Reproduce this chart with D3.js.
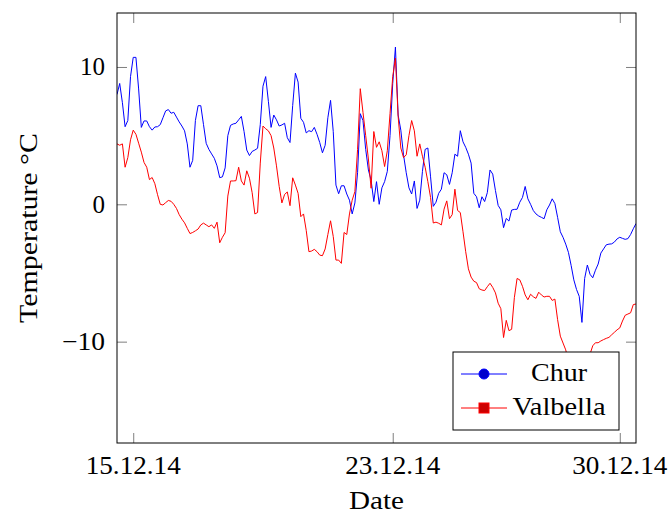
<!DOCTYPE html>
<html>
<head>
<meta charset="utf-8">
<script src="https://cdn.jsdelivr.net/npm/d3@7"></script>
<style>
  html, body { margin: 0; padding: 0; background: #fff; }
  svg { display: block; }
  text { font-family: "Liberation Serif", "DejaVu Serif", serif; fill: #000; }
</style>
</head>
<body>
<svg id="chart" width="671" height="517"></svg>
<script>
// Two-hourly air temperature (°C), starting 14.12.2014 12:00
const startTime = new Date(2014, 11, 14, 12, 0);
const stepHours = 2;

const chur = [
  8.0, 8.8, 7.4, 5.65, 6.1, 9.3, 10.7, 10.7, 8.4, 5.6,
  6.07, 6.07, 5.65, 5.4, 5.63, 5.65, 5.8, 6.3, 6.8, 6.9,
  6.63, 6.7, 6.35, 6.0, 5.7, 5.35, 4.4, 2.7, 3.2, 6.1,
  7.18, 7.18, 5.8, 4.44, 4.0, 3.67, 3.35, 2.8, 1.94, 2.0,
  2.65, 5.0, 5.75, 5.85, 5.9, 6.15, 6.4, 5.3, 3.95, 3.55,
  3.85, 3.95, 4.08, 5.8, 8.6, 9.3, 7.5, 5.6, 6.5, 6.15,
  5.7, 5.78, 5.9, 4.85, 4.5, 7.2, 9.55, 8.9, 6.26, 5.97,
  5.2, 5.36, 5.29, 5.6, 5.1, 4.5, 3.75, 4.3, 6.3, 7.57,
  5.29, 1.4, 0.77, 1.35, 1.35, 0.75, 0.3, -0.7, 0.1, 2.3,
  6.6, 6.1, 4.0, 2.5, 1.75, 0.2, 1.65, 0.0, 1.2, 1.65,
  2.4, 5.0, 8.8, 11.45, 6.5, 5.4, 3.6, 2.3, 1.2, 0.75,
  1.7, -0.3, 0.3, 2.4, 4.0, 4.1, 2.0, -0.15, 0.15, 0.8,
  1.1, 2.3, 2.15, 1.45, 2.3, 3.65, 3.5, 5.36, 4.55, 4.15,
  3.65, 3.0, 0.8, 0.55, -0.25, 0.55, 0.2, 0.85, 2.5, 2.2,
  1.0, -0.08, -0.4, -1.7, -1.03, -1.22, -0.42, -0.37, -0.36, 0.15,
  0.5, 1.3, 0.4, 0.0, -0.45, -0.7, -0.85, -0.95, -1.05, -0.4,
  -0.05, 0.4, 0.05, -0.95, -2.0, -2.4, -2.9, -3.5, -4.45, -5.5,
  -6.2, -6.7, -8.6, -5.4, -4.42, -5.1, -5.35, -4.8, -4.35, -3.55,
  -3.25, -2.95, -2.9, -2.88, -2.75, -2.52, -2.4, -2.48, -2.55, -2.5,
  -2.2, -1.78, -1.4
];

const valbella = [
  4.4, 4.3, 4.4, 2.7, 3.4, 4.7, 5.4, 5.1, 4.45, 3.8,
  3.05, 2.7, 1.8, 1.95, 1.5, 0.7, 0.0, -0.05, 0.12, 0.28,
  0.22, 0.0, -0.3, -0.75, -1.08, -1.35, -1.75, -2.13, -2.05, -1.93,
  -1.8, -1.5, -1.37, -1.5, -1.63, -1.5, -1.75, -1.3, -2.8, -2.4,
  -2.07, 0.6, 1.7, 1.7, 1.72, 2.7, 1.7, 1.4, 2.44, 1.9,
  0.85, -0.7, -0.6, 3.0, 5.7, 5.5, 5.35, 5.0, 4.1, 2.8,
  1.3, 0.1, 0.72, 0.9, -0.1, 1.93, 1.4, 0.8, -0.9, -0.7,
  -1.9, -3.45, -3.4, -3.28, -3.45, -3.7, -3.74, -3.25, -2.2, -1.2,
  -2.35, -4.06, -4.06, -4.3, -2.05, -2.2, -0.7, 0.3, 0.92, 4.0,
  8.42, 6.7, 5.0, 3.3, 1.17, 5.3, 4.15, 4.55, 3.9, 2.75,
  3.9, 6.6, 9.3, 10.65, 6.4, 4.1, 3.4, 3.6, 5.0, 6.1,
  5.35, 3.5, 4.4, 3.5, 2.7, 1.65, 0.5, -1.36, -1.3, -1.38,
  -1.5, -0.35, 0.25, -1.05, -0.75, 1.1, -0.45, -0.6, -2.0, -3.45,
  -4.7, -5.3, -5.6, -5.7, -6.15, -6.24, -6.28, -6.0, -5.75, -6.05,
  -6.45, -7.2, -7.6, -9.7, -8.45, -9.2, -9.1, -6.8, -5.4, -5.5,
  -5.97, -6.6, -6.95, -6.55, -6.73, -6.85, -6.4, -6.6, -6.75, -6.7,
  -6.7, -7.0, -6.9, -8.4, -9.6, -10.1, -10.6, -11.4, -12.1, -13.3,
  -14.0, -14.75, -14.2, -13.0, -12.0, -10.9, -10.3, -10.08, -10.08, -9.95,
  -9.85, -9.76, -9.69, -9.5, -9.32, -9.14, -9.0, -8.5, -8.08, -7.99,
  -7.9, -7.3, -7.26
];

const seriesNames = ["Chur", "Valbella"];
const seriesColors = ["#0000ff", "#ff0000"];
const markerFills = ["#0000cc", "#cc0000"];

const xTickDates = [new Date(2014, 11, 15), new Date(2014, 11, 23), new Date(2014, 11, 30)];
const xTickLabels = ["15.12.14", "23.12.14", "30.12.14"];
const yTickValues = [-10, 0, 10];
const yDomain = [-17.38, 13.93];

const xLabel = "Date";
const yLabel = "Temperature °C";

// ---------------------------------------------------------------
const svg = d3.select("#chart");
const plot = { left: 117, right: 636, top: 13, bottom: 443 };

const timeAt = i => d3.timeHour.offset(startTime, i * stepHours);
const endTime = timeAt(chur.length - 1);

const x = d3.scaleTime().domain([startTime, endTime]).range([plot.left, plot.right]);
const y = d3.scaleLinear().domain(yDomain).range([plot.bottom, plot.top]);

const tickLen = 10;
const tickColor = "#7f7f7f";
const labelSize = 25;

// widen a text element horizontally to a given width (serif labels run wide)
function fitWidth(sel, w) {
  sel.attr("textLength", w).attr("lengthAdjust", "spacingAndGlyphs");
}

// plot lines, clipped to the axis box
svg.append("clipPath").attr("id", "plotClip")
  .append("rect")
  .attr("x", plot.left).attr("y", plot.top)
  .attr("width", plot.right - plot.left).attr("height", plot.bottom - plot.top);

const line = d3.line()
  .x((d, i) => x(timeAt(i)))
  .y(d => y(d));

const lines = svg.append("g").attr("clip-path", "url(#plotClip)");
[chur, valbella].forEach((vals, k) => {
  lines.append("path")
    .datum(vals)
    .attr("fill", "none")
    .attr("stroke", seriesColors[k])
    .attr("stroke-width", 1)
    .attr("stroke-linejoin", "round")
    .attr("d", line);
});

// ticks on all four sides, pointing inwards
function styleTicks(g) {
  g.select(".domain").remove();
  g.selectAll(".tick line").attr("stroke", tickColor).attr("stroke-width", 1);
}

svg.append("g").attr("transform", `translate(0,${plot.bottom})`)
  .call(d3.axisTop(x).tickValues(xTickDates).tickSize(tickLen).tickFormat("")).call(styleTicks);
svg.append("g").attr("transform", `translate(0,${plot.top})`)
  .call(d3.axisBottom(x).tickValues(xTickDates).tickSize(tickLen).tickFormat("")).call(styleTicks);
svg.append("g").attr("transform", `translate(${plot.left},0)`)
  .call(d3.axisRight(y).tickValues(yTickValues).tickSize(tickLen).tickFormat("")).call(styleTicks);
svg.append("g").attr("transform", `translate(${plot.right},0)`)
  .call(d3.axisLeft(y).tickValues(yTickValues).tickSize(tickLen).tickFormat("")).call(styleTicks);

// tick labels
svg.append("g").selectAll("text")
  .data(xTickDates)
  .join("text")
  .attr("x", d => x(d))
  .attr("y", plot.bottom + 31)
  .attr("text-anchor", "middle")
  .attr("font-size", labelSize)
  .text((d, i) => xTickLabels[i])
  .call(fitWidth, 95);

svg.append("g").selectAll("text")
  .data(yTickValues)
  .join("text")
  .attr("x", plot.left - 12)
  .attr("y", d => y(d) + 8.5)
  .attr("text-anchor", "end")
  .attr("font-size", labelSize)
  .text(d => d < 0 ? "\u2212" + Math.abs(d) : String(d))
  .each(function (d) { if (d < 0) d3.select(this).call(fitWidth, 43); });

// axis titles
svg.append("text")
  .attr("x", (plot.left + plot.right) / 2)
  .attr("y", 509)
  .attr("text-anchor", "middle")
  .attr("font-size", labelSize)
  .text(xLabel)
  .call(fitWidth, 55);

svg.append("text")
  .attr("transform", `translate(37,${(plot.top + plot.bottom) / 2}) rotate(-90)`)
  .attr("text-anchor", "middle")
  .attr("font-size", labelSize)
  .text(yLabel)
  .call(fitWidth, 190);

// frame
svg.append("rect")
  .attr("x", plot.left).attr("y", plot.top)
  .attr("width", plot.right - plot.left).attr("height", plot.bottom - plot.top)
  .attr("fill", "none").attr("stroke", "#000").attr("stroke-width", 1);

// legend
const legend = svg.append("g");
const lg = { x: 453, y: 352, w: 166, h: 78 };
legend.append("rect")
  .attr("x", lg.x).attr("y", lg.y).attr("width", lg.w).attr("height", lg.h)
  .attr("fill", "#fff").attr("stroke", "#000").attr("stroke-width", 1);

const legendTextWidths = [56, 93];
seriesNames.forEach((name, k) => {
  const cy = lg.y + 22 + k * 34;
  legend.append("line")
    .attr("x1", lg.x + 8).attr("x2", lg.x + 54)
    .attr("y1", cy).attr("y2", cy)
    .attr("stroke", seriesColors[k]).attr("stroke-width", 1);
  if (k === 0) {
    legend.append("circle")
      .attr("cx", lg.x + 31).attr("cy", cy).attr("r", 5)
      .attr("fill", markerFills[k]).attr("stroke", seriesColors[k]);
  } else {
    legend.append("rect")
      .attr("x", lg.x + 26).attr("y", cy - 5).attr("width", 10).attr("height", 10)
      .attr("fill", markerFills[k]).attr("stroke", seriesColors[k]);
  }
  legend.append("text")
    .attr("x", lg.x + 106)
    .attr("y", cy + 7)
    .attr("text-anchor", "middle")
    .attr("font-size", labelSize)
    .text(name)
    .call(fitWidth, legendTextWidths[k]);
});
</script>
</body>
</html>
